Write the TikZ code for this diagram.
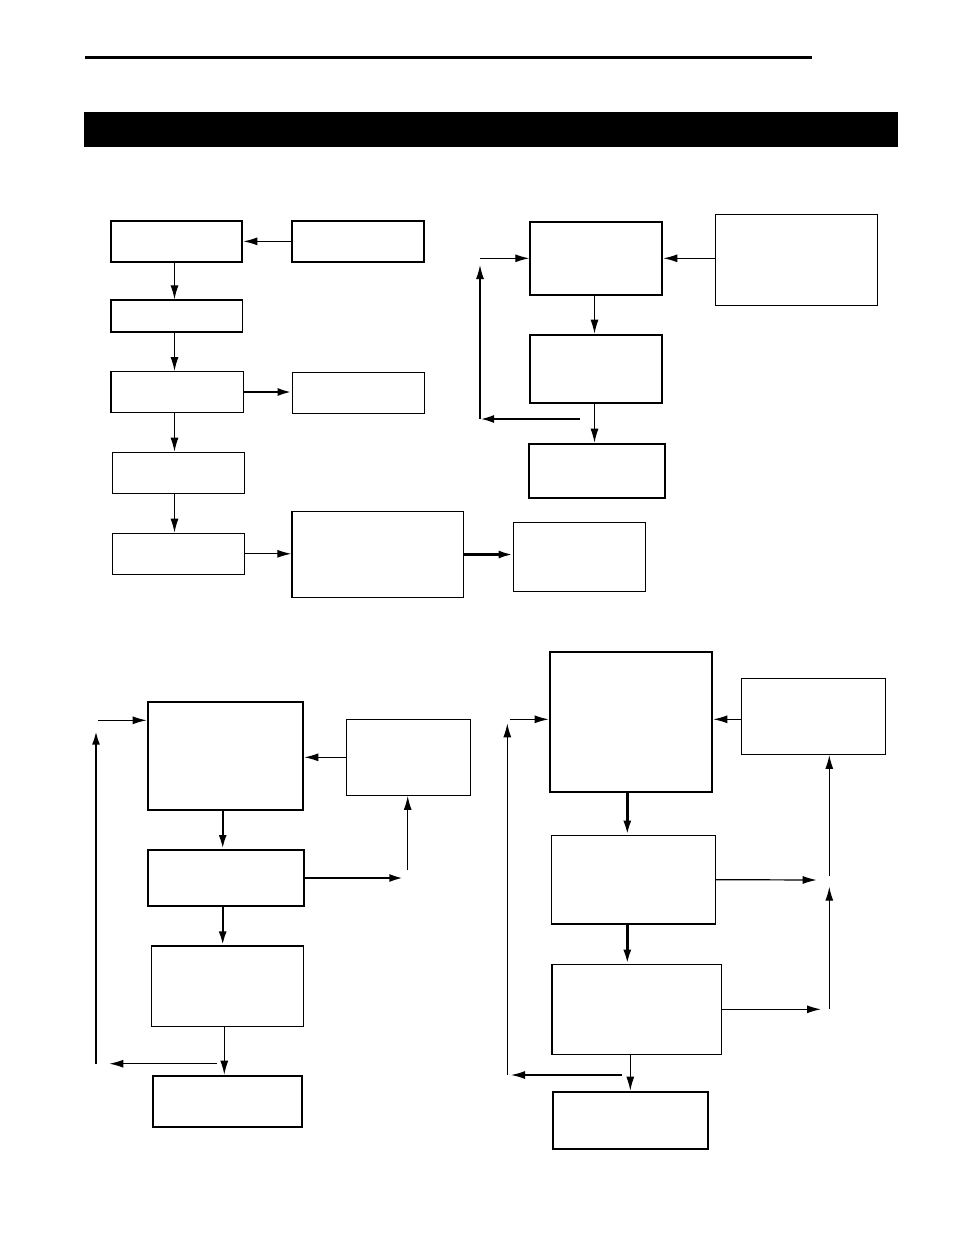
\documentclass[tikz,border=0pt]{standalone}
\usetikzlibrary{arrows.meta,fit}

\tikzset{
  box/.style={draw, line width=1.3pt, inner sep=0pt},
  boxthick/.style={draw, line width=2pt, inner sep=0pt},
  arr/.style={line width=1.2pt, -{Latex[length=14pt,width=8pt]}},
  arrthick/.style={line width=2.4pt, -{Latex[length=14pt,width=8pt]}},
}

\begin{document}
\begin{tikzpicture}[x=1pt,y=-1pt]
  \useasboundingbox (0,0) rectangle (954,1235);

  % header
  \draw[line width=3pt] (85,57) -- (812,57);
  \fill (84,112) rectangle (898,147);

  % top left
  \node[boxthick, fit={(110.7,220.7) (242.3,262)}] (A) {};
  \node[boxthick, fit={(292.3,220.7) (424,262)}] (B) {};
  \node[box, fit={(111,300) (242.5,332)}] (C) {};
  \node[box, fit={(111,371.7) (243.5,412.3)}] (D) {};
  \node[box, fit={(292.3,372.3) (424.3,413.3)}] (E) {};
  \node[box, fit={(112.3,452.3) (244.3,493.3)}] (F) {};
  \node[box, fit={(112.3,533.3) (244.3,574.3)}] (G) {};
  \node[box, fit={(292,511.7) (463.3,597.3)}] (H) {};
  \node[box, fit={(513.3,522.3) (645.7,591.3)}] (I) {};
  \coordinate (down) at (174.5,0);

  \draw[arr] (B.west) -- (A.east);
  \draw[arr] (down |- A.south) -- (down |- C.north);
  \draw[arr] (down |- C.south) -- (down |- D.north);
  \draw[arrthick] (D.east) -- (D.east -| E.west);
  \draw[arr] (down |- D.south) -- (down |- F.north);
  \draw[arr] (down |- F.south) -- (down |- G.north);
  \draw[arr] (G.east) -- (G.east -| H.west);
  \draw[arrthick] (H.east) -- (H.east -| I.west);

  % top right
  \node[boxthick, fit={(530.3,222) (662.3,295.3)}] (J) {};
  \node[box, fit={(715.3,214.7) (877.7,305.3)}] (K) {};
  \node[boxthick, fit={(530.3,334.7) (662.3,403)}] (L) {};
  \node[boxthick, fit={(529.3,443.7) (665.3,498)}] (M) {};
  \coordinate (jin) at (480,258.3);
  \coordinate (jup) at (480,265);
  \coordinate (lback) at (580,419);
  \coordinate (lcorner) at (480,419);
  \coordinate (jdown) at (594.5,0);

  \draw[arr] (K.west |- jin) -- (J.east |- jin);
  \draw[arr] (jin) -- (J.west |- jin);
  \draw[arr] (jdown |- J.south) -- (jdown |- L.north);
  \draw[arr] (jdown |- L.south) -- (jdown |- M.north);
  \draw[arrthick] (lback) -- (lcorner);
  \draw[arr] (lcorner) -- (jup);

  % bottom left
  \node[boxthick, fit={(147.7,701.7) (303.3,810.3)}] (N) {};
  \node[box, fit={(346.3,719.3) (470.3,795.3)}] (O) {};
  \node[boxthick, fit={(148.3,850) (304.3,906)}] (P) {};
  \node[box, fit={(151.3,946) (303.3,1026.3)}] (Q) {};
  \node[boxthick, fit={(153.3,1075.7) (302.3,1127)}] (R) {};
  \coordinate (nin) at (98.3,720.3);
  \coordinate (nup) at (96,730.7);
  \coordinate (qback) at (216.7,1063.7);
  \coordinate (qend) at (109.3,1063.7);
  \coordinate (qcorner) at (96,1063.7);
  \coordinate (pout) at (403.3,878);
  \coordinate (pup) at (407.7,870.3);
  \coordinate (ndown) at (222.7,0);
  \coordinate (qdown) at (224.3,0);

  \draw[arr] (O.west) -- (O.west -| N.east);
  \draw[arr] (nin) -- (nin -| N.west);
  \draw[arrthick] (ndown |- N.south) -- (ndown |- P.north);
  \draw[arrthick] (ndown |- P.south) -- (ndown |- Q.north);
  \draw[arr] (qdown |- Q.south) -- (qdown |- R.north);
  \draw[arrthick] (P.east) -- (pout);
  \draw[arr] (pup) -- (pup |- O.south);
  \draw[arr] (qback) -- (qend);
  \draw[arrthick] (qcorner) -- (nup);

  % bottom right
  \node[boxthick, fit={(549.7,652) (712.3,792)}] (S) {};
  \node[box, fit={(741.3,678.7) (885.3,754.3)}] (T) {};
  \node[box, fit={(551.7,835.3) (715.3,924)}] (U) {};
  \node[box, fit={(552,964.3) (721.7,1054.3)}] (V) {};
  \node[boxthick, fit={(552.7,1091.7) (708.3,1149)}] (W) {};
  \coordinate (sin) at (510,719.3);
  \coordinate (sup) at (507.3,723.3);
  \coordinate (vback) at (621.7,1075);
  \coordinate (vend) at (511,1075);
  \coordinate (vcorner) at (507.3,1075);
  \coordinate (uout) at (816.7,880);
  \coordinate (vout) at (821,1009.3);
  \coordinate (vright) at (829.3,1009.3);
  \coordinate (vtip) at (829.3,886.7);
  \coordinate (tup) at (829.3,876);
  \coordinate (sdown) at (627.3,0);
  \coordinate (vdown) at (630.3,0);

  \draw[arr] (T.west |- sin) -- (S.east |- sin);
  \draw[arr] (sin) -- (S.west |- sin);
  \draw[arrthick] (sdown |- S.south) -- (sdown |- U.north);
  \draw[arrthick] (sdown |- U.south) -- (sdown |- V.north);
  \draw[arr] (vdown |- V.south) -- (vdown |- W.north);
  \draw[arr] (U.east) -- (uout);
  \draw[arr] (V.east) -- (vout);
  \draw[arr] (vright) -- (vtip);
  \draw[arr] (tup) -- (tup |- T.south);
  \draw[arr] (vback) -- (vend);
  \draw[arr] (vcorner) -- (sup);
\end{tikzpicture}
\end{document}
